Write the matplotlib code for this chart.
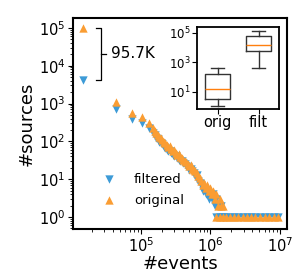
import numpy as np
import matplotlib
matplotlib.use("Agg")
import matplotlib.pyplot as plt
from matplotlib.ticker import LogLocator, NullFormatter, NullLocator

# datos
events = [14600, 43700, 74000, 103000, 130000, 150000, 159000, 168000, 176000,
          185000, 194000, 204000, 214000, 225000, 237000, 248000, 261000,
          274000, 289000, 303000, 319000, 335000, 352000, 370000, 389000,
          409000, 430000, 452000, 474000, 499000, 524000, 551000, 579000,
          609000, 640000, 672000, 706000, 742000, 780000, 820000, 861000,
          905000, 951000, 1000000, 1050000, 1100000, 1160000, 1220000,
          1280000, 1350000, 1420000, 1500000]
orig = [100000, 1100, 560, 440, 310, 230, 190, 170, 150, 128, 125, 108, 96,
        88, 80, 70, 74, 62, 56, 60, 50, 44, 46, 38, 36, 32, 30, 29, 25, 22,
        24, 19, 18, 16, 15, 12, 11, 9, 7, 8, 6, 7, 5, 6, 4, 5, 3, 4, 2, 3, 2, 2]
filt = [4300, 720, 390, 310, 225, 170, 148, 120, 118, 98, 92, 84, 70, 66, 58,
        54, 57, 48, 44, 42, 40, 36, 33, 30, 31, 26, 25, 22, 21, 18, 19, 16,
        15, 12, 13, 9, 8, 7, 5, 6, 4, 5, 3, 4, 3, 4, 2, 3, 2, 2, 2, 1]

# fila de fuentes con un solo origen
tail_events = [1200000, 1350000, 1500000, 1700000, 1900000, 2200000, 2500000,
               2900000, 3300000, 3800000, 4400000, 5100000, 6000000, 7000000,
               8200000, 9300000]
tail_counts = [1] * len(tail_events)

# cajas del recuadro
box_labels = ["orig", "filt"]
box_whislo = [1.1, 400]
box_q1 = [3.4, 5600]
box_med = [16, 14000]
box_q3 = [155, 63000]
box_whishi = [400, 135000]

blue = "#3d9bd7"
orange = "#fa9d33"

fig = plt.figure(figsize=(2.96, 2.73), dpi=100)
ax = fig.add_axes([0.247, 0.161, 0.723, 0.773])

ax.scatter(events + tail_events, filt + tail_counts, marker="v", s=36,
           color=blue, linewidths=0, label="filtered")
ax.scatter(events + tail_events, orig + tail_counts, marker="^", s=36,
           color=orange, linewidths=0, label="original")

ax.set_xscale("log")
ax.set_yscale("log")
ax.set_xlim(10700, 12.6e6)
ax.set_ylim(0.48, 182000)
ax.yaxis.set_major_locator(LogLocator(base=10, numticks=10))
ax.yaxis.set_minor_locator(LogLocator(base=10, subs=np.arange(2, 10), numticks=20))
ax.yaxis.set_minor_formatter(NullFormatter())
ax.tick_params(labelsize=10.5, width=0.8, pad=2)
for s in ax.spines.values():
    s.set_linewidth(1.5)
ax.set_xlabel("#events", fontsize=13, labelpad=0)
ax.set_ylabel("#sources", fontsize=13, labelpad=2)

# corchete de la diferencia
x0, ytop, ybot = events[0], orig[0], filt[0]
xb = x0 * 1.85
ax.plot([xb / 1.18, xb, xb, xb / 1.18], [ytop, ytop, ybot, ybot],
        color="black", lw=0.9)
ymid = np.sqrt(ytop * ybot)
ax.plot([xb, xb * 1.18], [ymid, ymid], color="black", lw=0.9)
ax.text(xb * 1.4, ymid, "95.7K", fontsize=11, va="center", ha="left")

ax.legend(loc="lower left", bbox_to_anchor=(0.05, 0.05), frameon=False,
          fontsize=9.5, handletextpad=0.9, labelspacing=0.6)

# recuadro
ins = fig.add_axes([0.666, 0.601, 0.277, 0.300])
stats = []
for i in range(len(box_labels)):
    stats.append({"label": box_labels[i], "whislo": box_whislo[i],
                  "q1": box_q1[i], "med": box_med[i], "q3": box_q3[i],
                  "whishi": box_whishi[i], "fliers": []})
ins.bxp(stats, widths=0.6,
        boxprops=dict(color="#333333", lw=1.0),
        whiskerprops=dict(color="#333333", lw=1.0),
        capprops=dict(color="#333333", lw=1.0),
        medianprops=dict(color="#ff7f0e", lw=1.0))
ins.set_yscale("log")
ins.set_ylim(0.7, 250000)
ins.set_yticks([10, 1000, 100000])
ins.yaxis.set_minor_locator(NullLocator())
ins.tick_params(axis="y", labelsize=8.5, pad=1)
ins.tick_params(axis="x", labelsize=10.5, pad=1)
for s in ins.spines.values():
    s.set_linewidth(1.3)

fig.savefig("out.png", dpi=100)
